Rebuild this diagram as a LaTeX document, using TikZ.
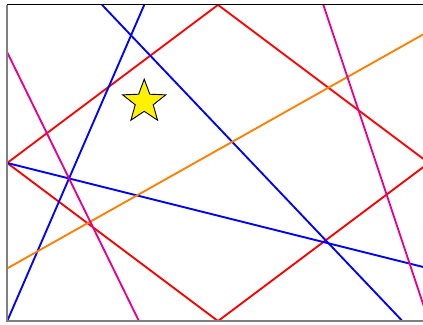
\documentclass[tikz,border=0pt]{standalone}
\usetikzlibrary{shapes.geometric}
\definecolor{deeppink}{RGB}{230,0,140}
\definecolor{darkorange}{RGB}{255,128,0}
\begin{document}
\begin{tikzpicture}[line width=1pt]
                \useasboundingbox (-4.137,-3.074) rectangle (3.89,3.093);
                \begin{scope}
                \clip (-4,-3) rectangle (3.89,3);
                % Diamond
                \draw[red] (-4,0) -- (0,3) -- (4,0) -- (0,-3) -- cycle;
                % Blue lines
                \draw[blue] (-4,-3) -- (-1.4,3);
                \draw[blue] (-2.2,3) -- (3.5,-3);
                \draw[blue] (-4,0) -- (4,-2);
                % Orange line
                \draw[darkorange] (-4,-2) -- (4,2.5);
                % Pink lines
                \draw[deeppink] (-4,2.1) -- (-1.5,-3);
                \draw[deeppink] (2,3) -- (4,-3);
                \end{scope}
                % Frame
                \draw[gray, line width=1.1pt] (-4,3) -- (-4,-3) -- (3.89,-3);
                \draw[black, line width=0.5pt] (-4,3) -- (3.89,3);
                % Star
                \node[star, star points=5, star point ratio=2.4, minimum size=0.86cm, inner sep=0pt,
                      fill=yellow, draw=black, line width=0.5pt] (sun) at (-1.4,1.16) {};
            \end{tikzpicture}
\end{document}
